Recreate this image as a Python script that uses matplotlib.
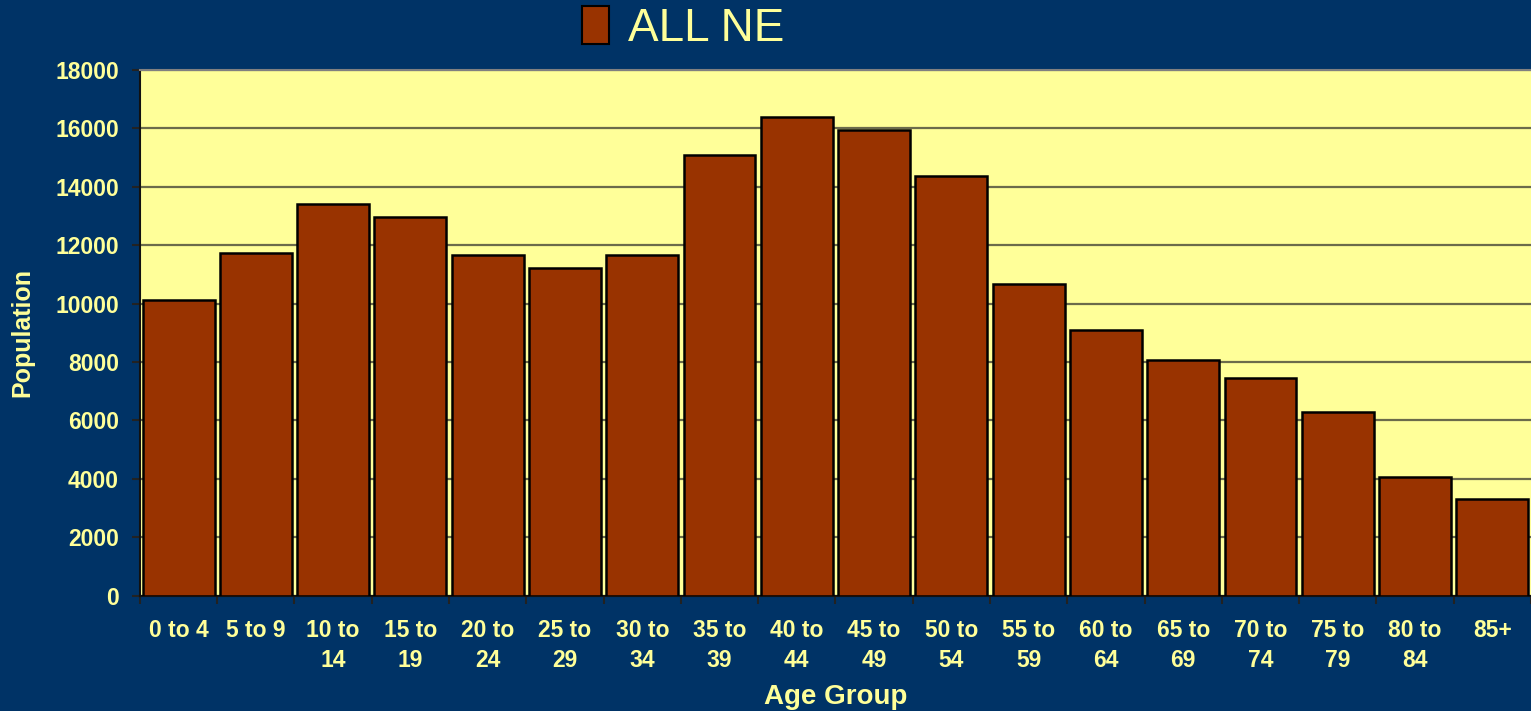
import numpy as np
import matplotlib.pyplot as plt
from matplotlib.patches import Patch

# age groups and population
age_groups = ["0 to 4", "5 to 9", "10 to\n14", "15 to\n19", "20 to\n24", "25 to\n29",
              "30 to\n34", "35 to\n39", "40 to\n44", "45 to\n49", "50 to\n54", "55 to\n59",
              "60 to\n64", "65 to\n69", "70 to\n74", "75 to\n79", "80 to\n84", "85+"]
population = [10130, 11720, 13400, 12950, 11650, 11230, 11650, 15100, 16400,
              15950, 14350, 10680, 9100, 8070, 7450, 6280, 4050, 3300]
y_ticks = [0, 2000, 4000, 6000, 8000, 10000, 12000, 14000, 16000, 18000]

navy = "#003366"
pale = "#FFFF99"
brick = "#993300"

plt.rcParams['font.family'] = ['Liberation Sans', 'DejaVu Sans']

fig = plt.figure(figsize=(15.31, 7.11), dpi=100, facecolor=navy)
ax = fig.add_axes([0.0914, 0.162, 0.9086, 0.7398])
ax.set_facecolor(pale)

x = np.arange(len(age_groups))
ax.bar(x, population, 0.93, color=brick, edgecolor="black", linewidth=1.8, zorder=3)

ax.set_xlim(-0.5, len(age_groups) - 0.5)
ax.set_ylim(0, 18000)
ax.set_yticks(y_ticks)
ax.set_yticklabels([str(v) for v in y_ticks])
ax.grid(axis="y", color="#6b6b4b", linewidth=1.6, zorder=1)

# ticks between bars, labels under bar centres
ax.set_xticks(np.arange(len(age_groups) + 1) - 0.5)
ax.set_xticklabels([])
ax.set_xticks(x, minor=True)
ax.set_xticklabels(age_groups, minor=True, linespacing=1.35, va="top")
ax.tick_params(axis="x", which="major", length=6, width=1.5, color="#222222", direction="out")
ax.tick_params(axis="x", which="minor", length=0, pad=17, labelsize=16.5, labelcolor=pale)
ax.tick_params(axis="y", length=6, width=1.5, color="#222222", labelsize=16.5,
               labelcolor=pale, pad=9)
for lbl in ax.get_yticklabels() + ax.get_xticklabels(minor=True):
    lbl.set_fontweight("bold")

for side in ["left", "bottom"]:
    ax.spines[side].set_color("#111111")
    ax.spines[side].set_linewidth(1.5)
ax.spines["top"].set_color("#808080")
ax.spines["top"].set_linewidth(1.5)
ax.spines["right"].set_visible(False)

ax.set_xlabel("Age Group", fontsize=20, fontweight="bold", color=pale, labelpad=9)
ax.set_ylabel("Population", fontsize=18, fontweight="bold", color=pale, labelpad=15)

handle = Patch(facecolor=brick, edgecolor="black", linewidth=1.5)
fig.legend([handle], ["ALL NE"], loc="upper center", bbox_to_anchor=(0.446, 1.05),
           frameon=False, fontsize=33, labelcolor=pale,
           handlelength=0.6, handleheight=0.9, handletextpad=0.4)

plt.savefig("out.png", facecolor=navy)
